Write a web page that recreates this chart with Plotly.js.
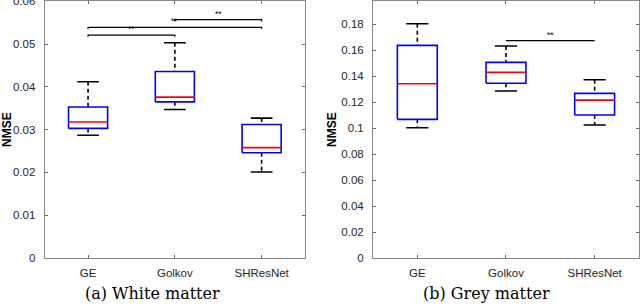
<!DOCTYPE html>
<html><head><meta charset="utf-8">
<script src="https://cdn.plot.ly/plotly-3.0.1.min.js"></script>
<style>html,body{margin:0;padding:0;background:#fff}#chart{width:640px;height:304px}</style>
</head><body><div id="chart"></div>
<script>
// Categories
const categories = ["GE", "Golkov", "SHResNet"];

// White matter (a) box statistics
const wmLower  = [0.0287, 0.0347, 0.0201];
const wmQ1     = [0.0303, 0.0365, 0.0246];
const wmMedian = [0.0318, 0.0376, 0.0258];
const wmQ3     = [0.0353, 0.0436, 0.0312];
const wmUpper  = [0.0412, 0.0503, 0.0327];
const wmSigPairs = [[1, 2], [1, 3], [2, 3]];
const wmSigY     = [0.0521, 0.0539, 0.0557];
const wmSigText  = ["**", "**", "**"];
const wmTicks = [0, 0.01, 0.02, 0.03, 0.04, 0.05, 0.06];

// Grey matter (b) box statistics
const gmLower  = [0.1002, 0.1285, 0.1023];
const gmQ1     = [0.1067, 0.1344, 0.1100];
const gmMedian = [0.1341, 0.1428, 0.1215];
const gmQ3     = [0.1636, 0.1505, 0.1267];
const gmUpper  = [0.1802, 0.1631, 0.1372];
const gmSigPairs = [[2, 3]];
const gmSigY     = [0.1672];
const gmSigText  = ["**"];
const gmTicks = [0, 0.02, 0.04, 0.06, 0.08, 0.1, 0.12, 0.14, 0.16, 0.18];

const captions = ["(a) White matter", "(b) Grey matter"];

const HW = 0.225, CAP = 0.125;
const traces = [];
const annotations = [];

function addPanel(xa, ya, lo, q1, med, q3, up, pairs, sy, stxt, drop) {
  for (let i = 0; i < categories.length; i++) {
    const c = i + 1;
    traces.push({x:[c, c, null, c, c], y:[up[i], q3[i], null, q1[i], lo[i]], xaxis:xa, yaxis:ya,
      mode:'lines', line:{color:'#000', width:1.6, dash:'4px,3px'}, hoverinfo:'skip', showlegend:false});
    traces.push({x:[c-CAP, c+CAP, null, c-CAP, c+CAP], y:[up[i], up[i], null, lo[i], lo[i]], xaxis:xa, yaxis:ya,
      mode:'lines', line:{color:'#000', width:1.6}, hoverinfo:'skip', showlegend:false});
    traces.push({x:[c-HW, c+HW, c+HW, c-HW, c-HW], y:[q1[i], q1[i], q3[i], q3[i], q1[i]], xaxis:xa, yaxis:ya,
      mode:'lines', line:{color:'#0000ff', width:1.6}, hoverinfo:'skip', showlegend:false});
    traces.push({x:[c-HW, c+HW], y:[med[i], med[i]], xaxis:xa, yaxis:ya,
      mode:'lines', line:{color:'#ff0000', width:1.6}, hoverinfo:'skip', showlegend:false});
  }
  for (let k = 0; k < pairs.length; k++) {
    const [a, b] = pairs[k];
    traces.push({x:[a, a, b, b], y:[sy[k]-drop, sy[k], sy[k], sy[k]-drop], xaxis:xa, yaxis:ya,
      mode:'lines', line:{color:'#000', width:1.2}, hoverinfo:'skip', showlegend:false});
    annotations.push({x:(a+b)/2, y:sy[k], xref:xa, yref:ya, text:stxt[k], showarrow:false,
      yanchor:'bottom', yshift:-1, font:{family:'Liberation Sans, Arial, sans-serif', size:8.5, color:'#000'}});
  }
}

addPanel('x', 'y', wmLower, wmQ1, wmMedian, wmQ3, wmUpper, wmSigPairs, wmSigY, wmSigText, 0.0004);
addPanel('x2', 'y2', gmLower, gmQ1, gmMedian, gmQ3, gmUpper, gmSigPairs, gmSigY, gmSigText, 0);

const capFont = {family:'DejaVu Serif, Liberation Serif, serif', size:16, color:'#000'};
annotations.push({x:0.2375, y:0.0, xref:'paper', yref:'paper', text:captions[0], showarrow:false,
  yanchor:'bottom', xanchor:'center', yshift:-1, font:capFont});
annotations.push({x:0.7594, y:0.0, xref:'paper', yref:'paper', text:captions[1], showarrow:false,
  yanchor:'bottom', xanchor:'center', yshift:-1, font:capFont});

const tickFont = {family:'Liberation Sans, Arial, sans-serif', size:11.5, color:'#262626'};
const xBase = {range:[0.5, 3.5], tickvals:[1, 2, 3], ticktext:categories, showline:true, linecolor:'#888',
  linewidth:1, ticks:'inside', ticklen:3, tickcolor:'#666', mirror:'ticks', showgrid:false, zeroline:false,
  tickfont:tickFont, ticklabelstandoff:4, fixedrange:true};
const yBase = {showline:true, linecolor:'#888', linewidth:1, ticks:'inside', ticklen:3, tickcolor:'#666',
  mirror:'ticks', showgrid:false, zeroline:false, tickfont:tickFont, fixedrange:true,
  ticklabelstandoff:6, ticklabeloverflow:'allow',
  title:{text:'<b>NMSE</b>', font:{family:'Liberation Sans, Arial, sans-serif', size:12, color:'#000'}, standoff:2}};

const layout = {
  width:640, height:304,
  margin:{l:0, r:0, t:0, b:0},
  paper_bgcolor:'#fff', plot_bgcolor:'#fff',
  xaxis: Object.assign({}, xBase, {domain:[0.0698, 0.4766], anchor:'y'}),
  yaxis: Object.assign({}, yBase, {domain:[0.1513, 0.9957], range:[0, 0.06], tickvals:wmTicks,
    ticktext:wmTicks.map(String), anchor:'x'}),
  xaxis2: Object.assign({}, xBase, {domain:[0.5828, 0.9984], anchor:'y2'}),
  yaxis2: Object.assign({}, yBase, {domain:[0.1513, 0.9957], range:[0, 0.1975], tickvals:gmTicks,
    ticktext:gmTicks.map(String), anchor:'x2'}),
  annotations: annotations,
  showlegend:false
};

Plotly.newPlot('chart', traces, layout, {staticPlot:true, displayModeBar:false});
</script></body></html>
